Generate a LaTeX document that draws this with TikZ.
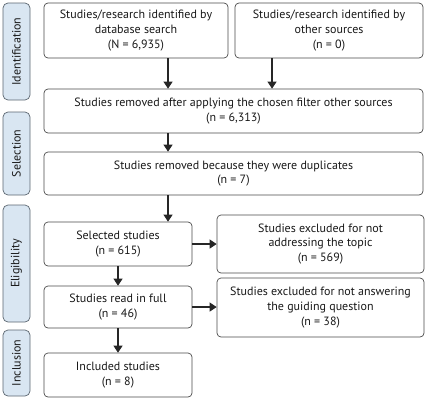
\documentclass[tikz,border=0pt]{standalone}
\usepackage{fontspec}
\setmainfont{PT Sans}
\usetikzlibrary{arrows.meta,positioning,calc}
\definecolor{boxline}{HTML}{4A4A4A}
\definecolor{phasefill}{HTML}{D9E6F2}
\definecolor{phaseline}{HTML}{5B6670}

\begin{document}
\begin{tikzpicture}[
    x=1pt, y=1pt,
    every node/.style={font=\fontsize{12}{14.6}\selectfont, text=black!90},
    stage/.style={draw=boxline, line width=0.7pt, rounded corners=4pt, align=center, inner sep=0pt, fill=white},
    phase/.style={draw=phaseline, line width=0.7pt, rounded corners=5pt, fill=phasefill, inner sep=0pt, minimum width=27},
    arrow/.style={-{Triangle[width=9pt,length=7pt]}, line width=1.1pt, black!85}
]

% Frame
\useasboundingbox (0,0) rectangle (427,-400);

% Phase labels on left
\node[phase, minimum height=97] (ident) at (16.5,-51.5) {};
\node[rotate=90] at (ident.center) {Identification};
\node[phase, minimum height=83] (select) at (16.5,-153.5) {};
\node[rotate=90] at (select.center) {Selection};
\node[phase, minimum height=117] (elig) at (16.5,-263.5) {};
\node[rotate=90] at (elig.center) {Eligibility};
\node[phase, minimum height=66] (incl) at (16.5,-363) {};
\node[rotate=90] at (incl.center) {Inclusion};

% Identification
\node[stage, minimum width=184, minimum height=55] (dbsearch) at (136,-30.5)
    {Studies/research identified by\\database search\\(N = 6,935)};
\node[stage, minimum width=188, minimum height=55] (othersrc) at (329,-30.5)
    {Studies/research identified by\\other sources\\(n = 0)};

% Selection
\node[stage, minimum width=379, minimum height=44] (filter) at (233.5,-111)
    {Studies removed after applying the chosen filter other sources\\(n = 6,313)};
\node[stage, minimum width=379, minimum height=43] (dupl) at (233.5,-173.5)
    {Studies removed because they were duplicates\\(n = 7)};

% Eligibility
\node[stage, minimum width=148, minimum height=44] (selected) at (118,-244)
    {Selected studies\\(n = 615)};
\node[stage, minimum width=148, minimum height=42] (fullread) at (118,-307)
    {Studies read in full\\(n = 46)};
\node[stage, minimum width=207, minimum height=58] (excltopic) at (320.5,-244)
    {Studies excluded for not\\addressing the topic\\(n = 569)};
\node[stage, minimum width=207, minimum height=59] (exclquest) at (320.5,-307.5)
    {Studies excluded for not answering\\the guiding question\\(n = 38)};

% Inclusion
\node[stage, minimum width=148, minimum height=44] (included) at (118,-375)
    {Included studies\\(n = 8)};

% Arrows
\coordinate (colA) at (168,0);
\coordinate (colB) at (272,0);
\draw[arrow] (colA |- dbsearch.south) -- (colA |- filter.north);
\draw[arrow] (colB |- othersrc.south) -- (colB |- filter.north);
\draw[arrow] (colA |- filter.south) -- (colA |- dupl.north);
\draw[arrow] (colA |- dupl.south) -- (colA |- selected.north);
\draw[arrow] (selected) -- (fullread);
\draw[arrow] (fullread) -- (included);
\draw[arrow] (selected) -- (excltopic);
\draw[arrow] (fullread.east) -- (fullread.east -| exclquest.west);

\end{tikzpicture}
\end{document}
